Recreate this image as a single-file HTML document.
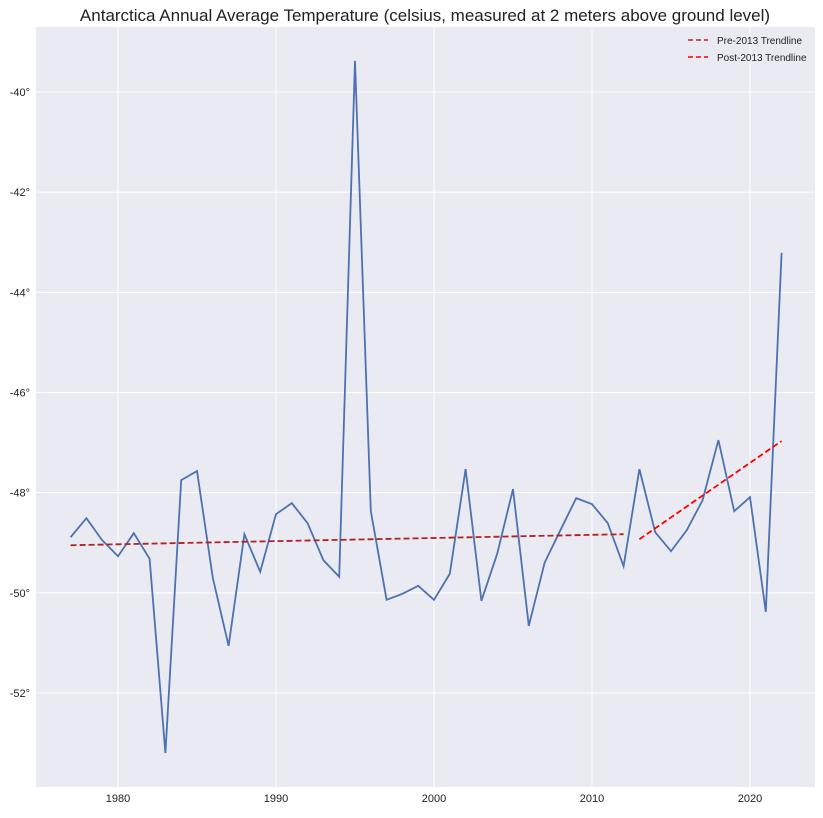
<!DOCTYPE html>
<html><head><meta charset="utf-8"><style>
html,body{margin:0;padding:0;background:#fff;}
svg text{font-family:"Liberation Sans",sans-serif;}
</style></head><body>
<svg id="chart" width="823" height="813" xmlns="http://www.w3.org/2000/svg">
<text x="425" y="21" text-anchor="middle" font-size="17" fill="#222">Antarctica Annual Average Temperature (celsius, measured at 2 meters above ground level)</text>
<rect x="36" y="27" width="779" height="760" fill="#eaeaf2"/>
<g id="grid"></g><g id="ticks"></g><g id="series"></g>
<g>
<line x1="688" y1="40" x2="708" y2="40" stroke="#b22222" stroke-width="1.6" stroke-dasharray="5,3"/>
<text x="717" y="44" font-size="10" fill="#222">Pre-2013 Trendline</text>
<line x1="688" y1="57" x2="708" y2="57" stroke="#ff0000" stroke-width="1.6" stroke-dasharray="5,3"/>
<text x="717" y="61" font-size="10" fill="#222">Post-2013 Trendline</text>
</g>
</svg>
<script>
const years=[1977,1978,1979,1980,1981,1982,1983,1984,1985,1986,1987,1988,1989,1990,1991,1992,1993,1994,1995,1996,1997,1998,1999,2000,2001,2002,2003,2004,2005,2006,2007,2008,2009,2010,2011,2012,2013,2014,2015,2016,2017,2018,2019,2020,2021,2022];
const temps=[-48.89,-48.51,-48.95,-49.27,-48.81,-49.32,-53.2,-47.75,-47.57,-49.70,-51.06,-48.83,-49.58,-48.43,-48.21,-48.61,-49.35,-49.68,-39.38,-48.37,-50.14,-50.02,-49.86,-50.14,-49.62,-47.53,-50.16,-49.22,-47.93,-50.66,-49.40,-48.75,-48.11,-48.23,-48.61,-49.47,-47.53,-48.79,-49.17,-48.75,-48.15,-46.95,-48.37,-48.09,-50.38,-43.21];
const preTrend=[[1977,-49.05],[2012,-48.83]];
const postTrend=[[2013,-48.93],[2022,-46.97]];
const xTicks=[1980,1990,2000,2010,2020];
const yTicks=[-40,-42,-44,-46,-48,-50,-52];
const NS="http://www.w3.org/2000/svg";
const X=v=>118+(v-1980)*15.8;
const Y=v=>92+(-40-v)*50.08;
function mk(p,t,a){const e=document.createElementNS(NS,t);for(const k in a)e.setAttribute(k,a[k]);p.appendChild(e);return e;}
const grid=document.getElementById('grid'),ticks=document.getElementById('ticks'),ser=document.getElementById('series');
xTicks.forEach(t=>{const l=mk(grid,'line',{x1:X(t),x2:X(t),y1:27,y2:787,stroke:'#fff','stroke-width':1});

const tx=mk(ticks,'text',{x:X(t),y:802,'text-anchor':'middle','font-size':11,fill:'#222'});tx.textContent=t;
});
yTicks.forEach(t=>{const l=mk(grid,'line',{x1:36,x2:815,y1:Y(t),y2:Y(t),stroke:'#fff','stroke-width':1});

const tx=mk(ticks,'text',{x:30,y:Y(t)+4,'text-anchor':'end','font-size':11,fill:'#222'});tx.textContent=t+'°';
});
const pl=mk(ser,'polyline',{points:years.map((y,i)=>X(y)+','+Y(temps[i])).join(' '),fill:'none',stroke:'#4c72b0','stroke-width':1.8});

const a=mk(ser,'line',{x1:X(preTrend[0][0]),y1:Y(preTrend[0][1]),x2:X(preTrend[1][0]),y2:Y(preTrend[1][1]),stroke:'#b22222','stroke-width':1.8,'stroke-dasharray':'6,3'});

const b=mk(ser,'line',{x1:X(postTrend[0][0]),y1:Y(postTrend[0][1]),x2:X(postTrend[1][0]),y2:Y(postTrend[1][1]),stroke:'#ff0000','stroke-width':1.8,'stroke-dasharray':'6,3'});

</script>
</body></html>
